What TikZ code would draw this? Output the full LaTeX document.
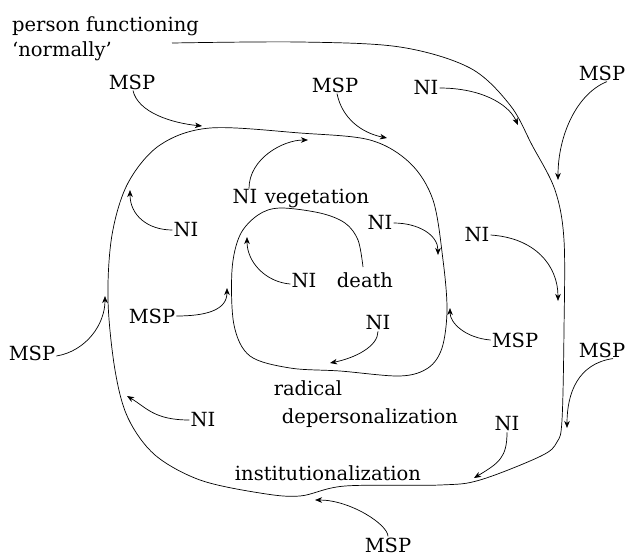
\documentclass[tikz,border=0pt]{standalone}
\usepackage{fontspec}
\setmainfont{DejaVu Serif}
\usetikzlibrary{arrows.meta,positioning}

\tikzset{
  lbl/.style={inner sep=1pt,font=\fontsize{19.5}{25}\selectfont},
  infl/.style={line width=0.7pt,-{Stealth[length=7pt,width=5.5pt,inset=2pt]}},
}

\begin{document}
\begin{tikzpicture}[x=1pt,y=-1pt]
\useasboundingbox (0,0) rectangle (625,558);

% spirale
\draw[line width=0.7pt] plot[smooth,tension=0.55] coordinates {
 (172,43) (300,42) (400,47) (470,68) (510,105) (532,145) (555,190) (564,240)
 (564,330) (562,420) (557,442) (541,456) (480,480) (440,485) (345,486)
 (300,496) (260,493) (200,480) (155,455) (128,418) (115,370) (108,300)
 (112,235) (128,183) (160,145) (210,128) (300,133) (370,140) (410,163)
 (433,200) (443,260) (447,310) (442,348) (428,368) (400,376) (340,371)
 (290,368) (250,356) (234,325) (232,270) (240,235) (258,215) (280,208)
 (320,213) (345,223) (358,240) (363,267)};

\node[lbl,anchor=north west,align=left,inner sep=0pt] (pf) at (12,16) {person functioning\\‘normally’};
\node[lbl] (vni) at (245,197) {NI};
\node[lbl,anchor=base west] (veg) at ([xshift=5pt]vni.base east) {vegetation};
\node[lbl,anchor=base] (death) at (365,287) {death};
\node[lbl,anchor=base] (n5) at (304,287) {NI};
\node[lbl] (rad) at (308,388) {radical};
\node[lbl] (dep) at (370,418) {depersonalization};
\node[lbl] (inst) at (328,473) {institutionalization};

\node[lbl] (m1) at (132,82) {MSP};
\node[lbl] (m2) at (335,85) {MSP};
\node[lbl] (m3) at (602,73) {MSP};
\node[lbl] (m4) at (152,316) {MSP};
\node[lbl] (m5) at (32,353) {MSP};
\node[lbl] (m6) at (515,340) {MSP};
\node[lbl] (m7) at (602,350) {MSP};
\node[lbl] (m8) at (388,545) {MSP};
\node[lbl] (n1) at (426,88) {NI};
\node[lbl] (n2) at (186,230) {NI};
\node[lbl] (n3) at (380,223) {NI};
\node[lbl] (n4) at (477,235) {NI};
\node[lbl] (n6) at (378,323) {NI};
\node[lbl] (n7) at (203,420) {NI};
\node[lbl] (n8) at (507,424) {NI};

\coordinate (t1) at (202,126);
\coordinate (t2) at (387,138);
\coordinate (t3) at (518,125);
\coordinate (t4) at (558,180);
\coordinate (t5) at (130,190);
\coordinate (t6) at (308,140);
\coordinate (t7) at (438,255);
\coordinate (t8) at (558,301);
\coordinate (t9) at (247,237);
\coordinate (t10) at (227,288);
\coordinate (t11) at (105,296);
\coordinate (t12) at (330,363);
\coordinate (t13) at (450,308);
\coordinate (t14) at (567,428);
\coordinate (t15) at (127,396);
\coordinate (t16) at (474,478);
\coordinate (t17) at (315,500);

\draw[infl] ([xshift=1pt]m1.south) .. controls +(5,22) and +(-30,-3) .. (t1);
\draw[infl] ([xshift=2pt]m2.south) .. controls +(5,25) and +(-25,-5) .. (t2);
\draw[infl] (n1.east) .. controls +(40,0) and +(-10,-22) .. (t3);
\draw[infl] ([xshift=5pt]m3.south) .. controls +(-30,12) and +(0,-45) .. (t4);
\draw[infl] (n2.west) .. controls +(-25,0) and +(0,25) .. (t5);
\draw[infl] ([xshift=4pt]vni.north) .. controls +(0,-30) and +(-25,0) .. (t6);
\draw[infl] (n3.east) .. controls +(25,0) and +(0,-20) .. (t7);
\draw[infl] (n4.east) .. controls +(45,3) and +(0,-35) .. (t8);
\draw[infl] ([yshift=-4pt]n5.west) .. controls +(-25,-2) and +(0,25) .. (t9);
\draw[infl] (m4.east) .. controls +(30,0) and +(0,22) .. (t10);
\draw[infl] ([yshift=-3pt]m5.east) .. controls +(30,-5) and +(0,28) .. (t11);
\draw[infl] (n6.south) .. controls +(0,15) and +(25,-5) .. (t12);
\draw[infl] (m6.west) .. controls +(-25,-2) and +(0,15) .. (t13);
\draw[infl] ([xshift=11pt]m7.south) .. controls +(-35,5) and +(0,-35) .. (t14);
\draw[infl] (n7.west) .. controls +(-35,0) and +(20,12) .. (t15);
\draw[infl] (n8.south) .. controls +(0,25) and +(25,-15) .. (t16);
\draw[infl] (m8.north) .. controls +(0,-12) and +(35,0) .. (t17);
\end{tikzpicture}
\end{document}
